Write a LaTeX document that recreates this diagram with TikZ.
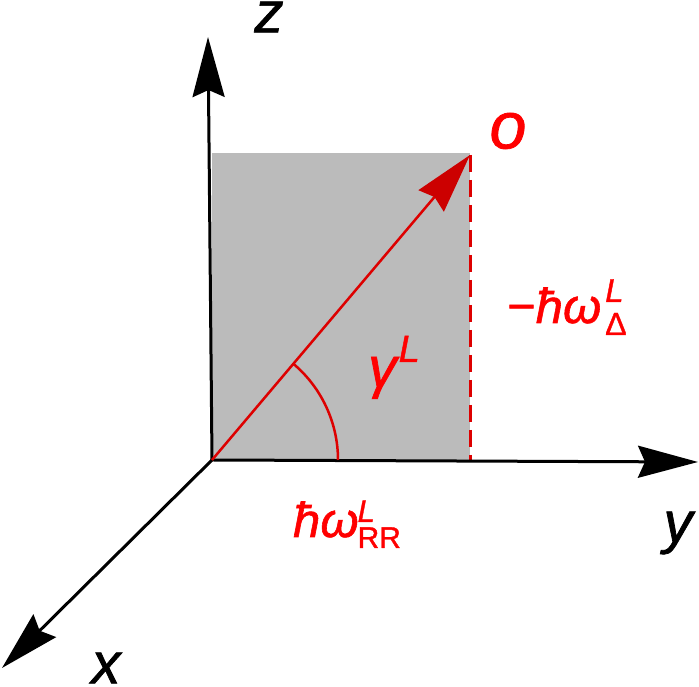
\documentclass[tikz,border=0pt]{standalone}
\usepackage{fontspec}
\setmainfont{Liberation Sans}[FakeBold=1.2]
\usetikzlibrary{arrows.meta}
\definecolor{boxgray}{HTML}{BBBBBB}
\definecolor{linered}{HTML}{DD0000}
\definecolor{tipred}{HTML}{CC0000}
\definecolor{textred}{HTML}{FF0000}
\newcommand\fs[1]{\fontsize{#1}{#1}\selectfont}
\begin{document}
\begin{tikzpicture}[x=1pt,y=1pt,
  axis/.style={line width=3pt,black,-{Stealth[length=60pt,width=32pt,inset=7pt]}},
  vecline/.style={line width=2.5pt,linered,-{Stealth[length=60pt,width=33pt,inset=5pt,fill=tipred,color=tipred]}},
  arcline/.style={line width=2.5pt,linered},
  dashline/.style={line width=3pt,linered,dash pattern=on 17pt off 8pt},
  axislabel/.style={inner sep=0pt,font=\fs{58}\itshape},
  redlabel/.style={inner sep=0pt,text=textred,anchor=base west}]
\useasboundingbox (0,0) rectangle (699,687);
% points
\coordinate (O) at (212,227);
\coordinate (Z) at (208,650);
\coordinate (Y) at (698,225);
\coordinate (X) at (2,19);
\coordinate (P) at (470,532);
\coordinate (D) at (470,227);
% shaded plane
\fill[boxgray] (O) rectangle (470,534);
% dashed projection
\draw[dashline] (P) -- (D);
% axes
\draw[axis] (O) -- (Z);
\draw[axis] (O) -- (Y);
\draw[axis] (O) -- (X);
% vector
\draw[vecline] (O) -- (P);
% angle arc
\path (O) ++(49.8:126pt) coordinate (A);
\draw[arcline] (A) arc[start angle=49.8,end angle=0,radius=126pt];
% axis labels
\node[axislabel] (zl) at (269,670) {z};
\node[axislabel] (yl) at (678,154) {y};
\node[axislabel] (xl) at (106,19) {x};
\node[inner sep=0pt,text=textred,font=\fs{66}\itshape] (ol) at (508,556) {o};
% red labels
\node[redlabel] (gl) at (368,300) {\fs{57}\itshape γ\kern2pt\raisebox{25pt}{\fs{38}L}};
\node[redlabel] (rr) at (293,150) {\fs{49}\itshape ħω\kern-1pt\rlap{\raisebox{15pt}{\fs{31}L}}\raisebox{-11pt}{\fs{30}\upshape RR}};
\node[redlabel] (dl) at (507,364) {\fs{49}−\itshape ħω\kern4pt\rlap{\raisebox{21pt}{\fs{33}L}}\raisebox{-12pt}{\fs{32}\upshape Δ}};
\end{tikzpicture}
\end{document}
